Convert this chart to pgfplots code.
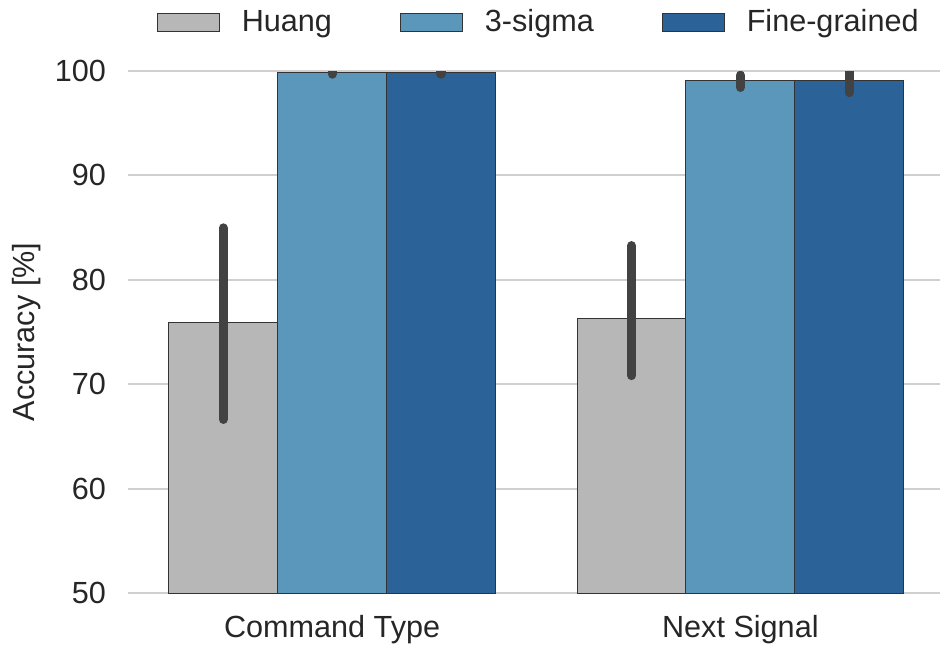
\documentclass[border=0pt]{standalone}
\usepackage{fontspec}
\setmainfont{Liberation Sans}
\usepackage{pgfplots}
\pgfplotsset{compat=1.18}
\definecolor{huang}{HTML}{B7B7B7}
\definecolor{sigma}{HTML}{5B96BB}
\definecolor{fine}{HTML}{2B6398}
\definecolor{errc}{HTML}{424242}
\definecolor{txt}{HTML}{262626}
\definecolor{gridc}{HTML}{D0D0D0}
\begin{document}
\begin{tikzpicture}
\begin{axis}[
  name=ax,
  scale only axis,
  width=406pt, height=261pt,
  xmin=-0.5, xmax=1.489,
  ymin=50, ymax=100,
  ytick={50,60,70,80,90,100},
  xtick={0,1},
  xticklabels={Command Type, Next Signal},
  axis line style={draw=none},
  major tick length=0pt,
  ymajorgrids,
  grid style={line width=1pt, color=gridc},
  /pgf/number format/assume math mode=true,
  tick label style={font=\fontsize{15.3}{18}\selectfont, text=txt},
  yticklabel style={xshift=-7.5pt},
  xticklabel style={yshift=-7.5pt},
  ylabel={Accuracy [\%]},
  ylabel style={at={(axis description cs:-0.125,0.5)}, anchor=center, font=\fontsize{15.3}{18}\selectfont, text=txt},
  ybar=0pt,
  bar width=0.2667,
  error bars/y dir=both,
  error bars/y explicit,
  error bars/error mark=none,
  error bars/error bar style={line width=4.6pt, color=errc, line cap=round},
  legend columns=3,
  legend style={draw=none, fill=none, at={(0.507,1)}, anchor=center, yshift=24.5pt,
    font=\fontsize{15.3}{18}\selectfont, text=txt,
    /tikz/every odd column/.append style={column sep=9pt},
    /tikz/every even column/.append style={column sep=32pt}},
  legend image code/.code={\draw[#1, line width=0.5pt] (0pt,-4.5pt) rectangle (31pt,4.5pt);},
]
\addplot[fill=huang, draw=black!80, line width=0.5pt] coordinates {
  (0,75.9) += (0,9.07) -= (0,9.27)
  (1,76.3) += (0,6.97) -= (0,5.47)
};
\addplot[fill=sigma, draw=black!80, line width=0.5pt] coordinates {
  (0,99.9) += (0,0.4) -= (0,0.2)
  (1,99.05) += (0,0.55) -= (0,0.62)
};
\addplot[fill=fine, draw=black!80, line width=0.5pt] coordinates {
  (0,99.9) += (0,0.4) -= (0,0.2)
  (1,99.1) += (0,1.2) -= (0,1.17)
};
\legend{Huang, 3-sigma, Fine-grained}
\end{axis}
\pgfresetboundingbox
\path ([shift={(-64pt,-26.5pt)}]ax.south west) rectangle ([shift={(0pt,35.5pt)}]ax.north east);
\end{tikzpicture}
\end{document}
